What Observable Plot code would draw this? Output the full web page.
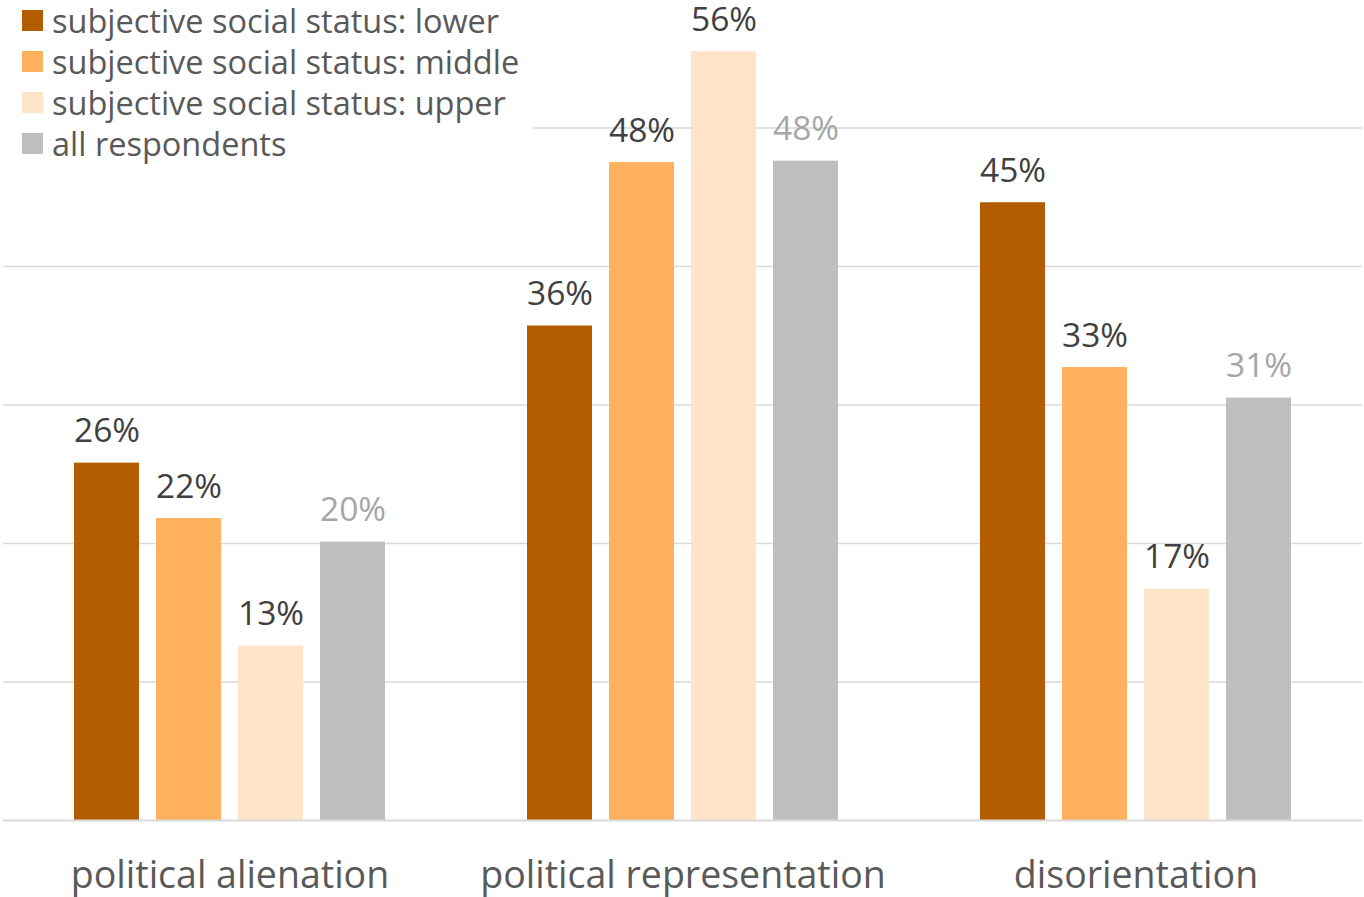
<!DOCTYPE html>
<html>
<head>
<meta charset="utf-8">
<script src="https://cdn.jsdelivr.net/npm/d3@7"></script>
<script src="https://cdn.jsdelivr.net/npm/@observablehq/plot@0.6"></script>
<style>
  html, body { margin: 0; padding: 0; background: #fff; }
  #wrap { position: relative; width: 1364px; height: 897px; font-family: "Open Sans", sans-serif; }
  #legend { position: absolute; left: 0; top: 0; width: 533px; height: 166px; background: #fff; }
  .item { position: absolute; left: 22px; height: 41px; display: flex; align-items: center; font-size: 32.5px; color: #595959; white-space: nowrap; }
  .sw { width: 21px; height: 21px; margin-right: 9px; flex: none; }
</style>
</head>
<body>
<div id="wrap"><div id="chart"></div><div id="legend"></div></div>
<script>
const categories = ["political alienation", "political representation", "disorientation"];
const series = ["subjective social status: lower", "subjective social status: middle", "subjective social status: upper", "all respondents"];
const colors = ["#B35C00", "#FFB15E", "#FFE4CA", "#BFBFBF"];
const labelColors = ["#404040", "#404040", "#404040", "#A6A6A6"];
const lowerValues = [25.8, 35.7, 44.6];
const middleValues = [21.8, 47.5, 32.7];
const upperValues = [12.6, 55.5, 16.7];
const allValues = [20.1, 47.6, 30.5];
const gridTicks = [10, 20, 30, 40, 50];

const seriesValues = [lowerValues, middleValues, upperValues, allValues];
const data = [];
categories.forEach((c, i) => {
  series.forEach((s, j) => {
    data.push({category: c, series: s, value: seriesValues[j][i], labelColor: labelColors[j]});
  });
});

const chart = Plot.plot({
  width: 1364,
  height: 897,
  marginTop: 0,
  marginBottom: 77,
  marginLeft: 2,
  marginRight: 1,
  style: {fontFamily: "Open Sans", background: "#fff", overflow: "visible"},
  fx: {domain: categories, padding: 0, label: null},
  x: {domain: series, paddingInner: 0.21, paddingOuter: 0.86, axis: null},
  y: {domain: [0, 59.2], axis: null},
  color: {domain: series, range: colors},
  marks: [
    Plot.ruleY(gridTicks, {stroke: "#D9D9D9", strokeWidth: 1.5}),
    Plot.barY(data, {fx: "category", x: "series", y: "value", fill: "series"}),
    Plot.ruleY([0], {stroke: "#D9D9D9", strokeWidth: 2}),
    Plot.text(data, {fx: "category", x: "series", y: "value", text: d => Math.round(d.value) + "%",
      fill: "labelColor", fontSize: 33.5, lineAnchor: "bottom", dy: -21}),
    Plot.axisFx({anchor: "bottom", tickSize: 0, tickPadding: 41, fontSize: 37.5, fill: "#595959", label: null})
  ]
});
document.getElementById("chart").appendChild(chart);

const legend = document.getElementById("legend");
series.forEach((s, i) => {
  const item = document.createElement("div");
  item.className = "item";
  item.style.top = (i * 41) + "px";
  const sw = document.createElement("span");
  sw.className = "sw";
  sw.style.background = colors[i];
  const t = document.createElement("span");
  t.textContent = s;
  item.appendChild(sw);
  item.appendChild(t);
  legend.appendChild(item);
});
</script>
</body>
</html>
